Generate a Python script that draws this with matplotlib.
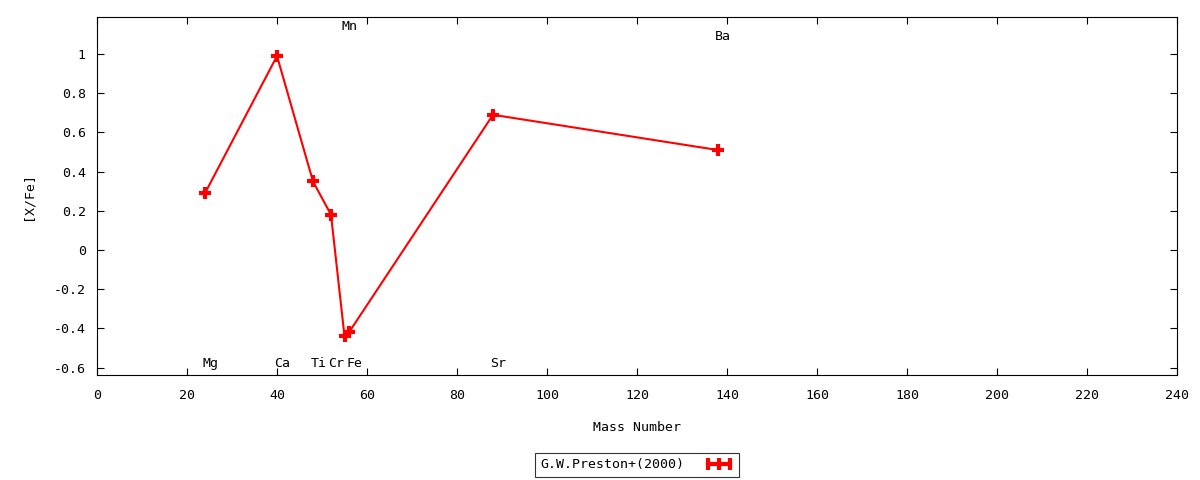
import matplotlib
matplotlib.use("Agg")
import matplotlib.pyplot as plt
from matplotlib.lines import Line2D
from matplotlib.ticker import MultipleLocator, FormatStrFormatter

elements = ["Mg", "Ca", "Ti", "Cr", "Mn", "Fe", "Sr", "Ba"]
mass = [24, 40, 48, 52, 55, 56, 88, 138]
xfe = [0.29, 0.99, 0.35, 0.18, -0.44, -0.42, 0.69, 0.51]
label_y = [-0.58, -0.58, -0.58, -0.58, 1.14, -0.58, -0.58, 1.09]
series_name = "G.W.Preston+(2000)"

plt.rcParams['font.family'] = ['DejaVu Sans Mono']
plt.rcParams['axes.unicode_minus'] = False
plt.rcParams['font.size'] = 9.5

fig = plt.figure(figsize=(12, 4.8), dpi=100)
ax = fig.add_axes([97/1200, 1-375/480, 1080/1200, 358/480])

ax.plot(mass, xfe, color='red', lw=1.5, marker='+', markersize=8, mew=3)

for el, m, ly in zip(elements, mass, label_y):
    ax.text(m - 0.6, ly, el, ha='left', va='center', fontsize=9.5)

ax.set_xlim(0, 240)
ax.set_ylim(-0.638, 1.189)
ax.xaxis.set_major_locator(MultipleLocator(20))
ax.yaxis.set_major_locator(MultipleLocator(0.2))
ax.yaxis.set_major_formatter(FormatStrFormatter('%g'))
ax.tick_params(direction='in', top=True, right=True, length=5, width=0.8, labelsize=9.5)
ax.tick_params(axis='x', pad=10)
ax.tick_params(axis='y', pad=8)
for s in ax.spines.values():
    s.set_linewidth(0.8)

ax.set_xlabel("Mass Number", labelpad=14)
ax.set_ylabel("[X/Fe]", labelpad=14)

handle = Line2D([], [], color='red', lw=3, marker='|', markersize=9, mew=3)
leg = ax.legend([handle], [series_name], loc='center', bbox_to_anchor=(0.5, -0.251),
                markerfirst=False, numpoints=3, frameon=True, fancybox=False,
                edgecolor='black', handlelength=2.3, borderpad=0.4, handletextpad=1.5,
                fontsize=9.5)
leg.get_frame().set_linewidth(0.8)

fig.savefig("out.png", dpi=100)
